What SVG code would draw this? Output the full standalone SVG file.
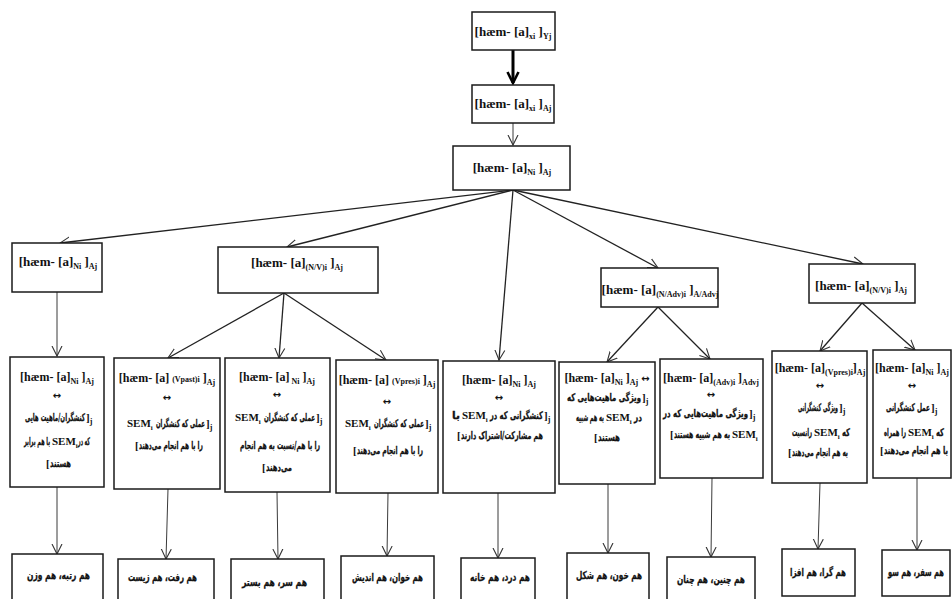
<svg xmlns="http://www.w3.org/2000/svg" width="952" height="599" viewBox="0 0 952 599">
<style>
.box{fill:#fff;stroke:#1a1a1a;stroke-width:1.5}
.f{font-family:'Liberation Serif',serif;font-weight:bold;font-size:13px;fill:#111;text-anchor:middle}
.f2{font-family:'Liberation Serif',serif;font-weight:bold;font-size:12px;fill:#111;text-anchor:middle}
.s{font-size:8px}
.p{font-family:'DejaVu Sans','Noto Sans',sans-serif;font-weight:bold;font-size:10.5px;fill:#111;stroke:#111;stroke-width:0.3;text-anchor:middle}
.pl{font-family:'DejaVu Sans','Noto Sans',sans-serif;font-weight:bold;font-size:11px;fill:#111;stroke:#111;stroke-width:0.3;text-anchor:middle}
.lt{font-family:'Liberation Serif',serif;font-weight:bold;font-size:11px;fill:#111;text-anchor:start}
.ar{font-family:'DejaVu Sans',sans-serif;font-weight:bold;font-size:10px;fill:#111;text-anchor:middle}
.c{stroke:#3a3a3a;stroke-width:1;fill:none;marker-end:url(#ah)}
.cd{stroke:#222;stroke-width:1.3;fill:none;marker-end:url(#ah)}
</style>
<defs>
<marker id="ah" markerUnits="userSpaceOnUse" markerWidth="12" markerHeight="12" viewBox="0 0 12 12" refX="10" refY="6" orient="auto">
<path d="M0,1 L10,6 L0,11" fill="none" stroke="#333" stroke-width="1.1"/>
</marker>
<marker id="ahb" markerUnits="userSpaceOnUse" markerWidth="14" markerHeight="14" viewBox="0 0 14 14" refX="12" refY="7" orient="auto">
<path d="M1,1.5 L12,7 L1,12.5" fill="none" stroke="#000" stroke-width="2.6"/>
</marker>
</defs>

<g id="connectors">
<line x1="513" y1="50" x2="513" y2="83" stroke="#000" stroke-width="3" marker-end="url(#ahb)"/>
<line class="c" x1="513" y1="123" x2="513" y2="145"/>
<line class="cd" x1="513" y1="190" x2="60" y2="243"/>
<line class="cd" x1="513" y1="190" x2="287" y2="247"/>
<line class="cd" x1="513" y1="190" x2="499" y2="360"/>
<line class="cd" x1="513" y1="190" x2="658" y2="268"/>
<line class="cd" x1="513" y1="190" x2="863" y2="264"/>
<line class="c" x1="57" y1="292" x2="57" y2="356"/>
<line class="cd" x1="284" y1="293" x2="168" y2="358"/>
<line class="cd" x1="284" y1="293" x2="279" y2="358"/>
<line class="cd" x1="284" y1="293" x2="386" y2="360"/>
<line class="cd" x1="658" y1="307" x2="607" y2="362"/>
<line class="cd" x1="658" y1="307" x2="710" y2="359"/>
<line class="cd" x1="862" y1="303" x2="820" y2="351"/>
<line class="cd" x1="862" y1="303" x2="915" y2="350"/>
<line class="c" x1="57" y1="487" x2="57" y2="554"/>
<line class="c" x1="168" y1="489" x2="166" y2="559"/>
<line class="c" x1="277" y1="492" x2="278" y2="559"/>
<line class="c" x1="388" y1="493" x2="387" y2="556"/>
<line class="c" x1="498" y1="493" x2="498" y2="558"/>
<line class="c" x1="608" y1="484" x2="608" y2="553"/>
<line class="c" x1="712" y1="478" x2="711" y2="557"/>
<line class="c" x1="820" y1="483" x2="818" y2="549"/>
<line class="c" x1="917" y1="478" x2="917" y2="550"/>
</g>

<g id="n-top1"><rect class="box" x="472" y="12" width="83" height="38"/>
<text class="f" x="513" y="36">[hæm- [a]<tspan class="s" baseline-shift="-3">xi</tspan> ]<tspan class="s" baseline-shift="-3">Yj</tspan></text></g>
<g id="n-top2"><rect class="box" x="472" y="85" width="82" height="38"/>
<text class="f" x="513" y="108">[hæm- [a]<tspan class="s" baseline-shift="-3">xi</tspan> ]<tspan class="s" baseline-shift="-3">Aj</tspan></text></g>
<g id="n-top3"><rect class="box" x="453" y="146" width="117" height="44"/>
<text class="f" x="512" y="172">[hæm- [a]<tspan class="s" baseline-shift="-3">Ni</tspan> ]<tspan class="s" baseline-shift="-3">Aj</tspan></text></g>

<g id="n-a"><rect class="box" x="12" y="243" width="90" height="49"/>
<text class="f" x="58" y="266">[hæm- [a]<tspan class="s" baseline-shift="-3">Ni</tspan> ]<tspan class="s" baseline-shift="-3">Aj</tspan></text></g>
<g id="n-b"><rect class="box" x="218" y="247" width="160" height="46"/>
<text class="f" x="297" y="267">[hæm- [a]<tspan class="s" baseline-shift="-3">(N/V)i</tspan> ]<tspan class="s" baseline-shift="-3">Aj</tspan></text></g>
<g id="n-d"><rect class="box" x="601" y="268" width="117" height="39"/>
<text class="f" x="660" y="294">[hæm- [a]<tspan class="s" baseline-shift="-3">(N/Adv)i</tspan> ]<tspan class="s" baseline-shift="-3">A/Advj</tspan></text></g>
<g id="n-e"><rect class="box" x="809" y="264" width="106" height="39"/>
<text class="f" x="861" y="290">[hæm- [a]<tspan class="s" baseline-shift="-3">(N/V)i</tspan> ]<tspan class="s" baseline-shift="-3">Aj</tspan></text></g>

<g id="n-a1"><rect class="box" x="10" y="357" width="94" height="130"/>
<text class="f2" x="57" y="381">[hæm- [a]<tspan class="s" baseline-shift="-3">Ni</tspan> ]<tspan class="s" baseline-shift="-3">Aj</tspan></text>
<text class="ar" x="57" y="399">↔</text>
<text class="p" x="55" y="421" textLength="60" lengthAdjust="spacingAndGlyphs">کنشگران/ماهیت هایی</text>
<text class="lt" x="86" y="421">]<tspan font-size="8" baseline-shift="-3">j</tspan></text>
<text class="p" x="37" y="445" textLength="26" lengthAdjust="spacingAndGlyphs">با هم برابر</text>
<text class="lt" x="52" y="445">SEM<tspan font-size="7" baseline-shift="-3">i</tspan></text>
<text class="p" x="84" y="445" textLength="12" lengthAdjust="spacingAndGlyphs">که در</text>
<text class="lt" x="46" y="467">[</text>
<text class="p" x="60.5" y="467" textLength="21" lengthAdjust="spacingAndGlyphs">هستند</text></g>

<g id="n-a2"><rect class="box" x="114" y="358" width="106" height="131"/>
<text class="f2" x="167" y="382">[hæm-  [a] <tspan font-size="8">(Vpast)i</tspan> ]<tspan class="s" baseline-shift="-3">Aj</tspan></text>
<text class="ar" x="167" y="401">↔</text>
<text class="lt" x="127" y="427">SEM<tspan font-size="7" baseline-shift="-3">i</tspan></text>
<text class="p" x="180.5" y="427" textLength="49" lengthAdjust="spacingAndGlyphs">عملی که کنشگران</text>
<text class="lt" x="206" y="427">]<tspan font-size="8" baseline-shift="-3">j</tspan></text>
<text class="lt" x="135" y="449">[</text>
<text class="p" x="171" y="449" textLength="64" lengthAdjust="spacingAndGlyphs">را با هم انجام می‌دهند</text></g>

<g id="n-b1"><rect class="box" x="225" y="358" width="105" height="134"/>
<text class="f2" x="277" y="381">[hæm- [a]<tspan class="s" baseline-shift="-3"> Ni</tspan> ]<tspan class="s" baseline-shift="-3">Aj</tspan></text>
<text class="ar" x="277" y="398">↔</text>
<text class="lt" x="235" y="421">SEM<tspan font-size="7" baseline-shift="-3">i</tspan></text>
<text class="p" x="289.5" y="421" textLength="51" lengthAdjust="spacingAndGlyphs">عملی که کنشگران</text>
<text class="lt" x="316" y="421">]<tspan font-size="8" baseline-shift="-3">j</tspan></text>
<text class="p" x="280" y="449" textLength="80" lengthAdjust="spacingAndGlyphs">را با هم/نسبت به هم انجام</text>
<text class="lt" x="262" y="471">[</text>
<text class="p" x="279" y="471" textLength="26" lengthAdjust="spacingAndGlyphs">می‌دهند</text></g>

<g id="n-b2"><rect class="box" x="336" y="360" width="102" height="133"/>
<text class="f2" x="387" y="384">[hæm-  [a] <tspan font-size="8">(Vpres)i</tspan> ]<tspan class="s" baseline-shift="-3">Aj</tspan></text>
<text class="ar" x="387" y="405">↔</text>
<text class="lt" x="345" y="427">SEM<tspan font-size="7" baseline-shift="-3">i</tspan></text>
<text class="p" x="399" y="427" textLength="50" lengthAdjust="spacingAndGlyphs">عملی که کنشگران</text>
<text class="lt" x="425" y="427">]<tspan font-size="8" baseline-shift="-3">j</tspan></text>
<text class="lt" x="353" y="454">[</text>
<text class="p" x="390" y="454" textLength="66" lengthAdjust="spacingAndGlyphs">را با هم انجام می‌دهند</text></g>

<g id="n-c"><rect class="box" x="443" y="361" width="112" height="132"/>
<text class="f2" x="499" y="384">[hæm-  [a]<tspan class="s" baseline-shift="-3">Ni</tspan> ]<tspan class="s" baseline-shift="-3">Aj</tspan></text>
<text class="ar" x="499" y="401">↔</text>
<text class="p" x="456" y="419" textLength="8" lengthAdjust="spacingAndGlyphs">با</text>
<text class="lt" x="462" y="419">SEM<tspan font-size="7" baseline-shift="-3">i</tspan></text>
<text class="p" x="516.5" y="419" textLength="53" lengthAdjust="spacingAndGlyphs">کنشگرانی که در</text>
<text class="lt" x="544" y="419">]<tspan font-size="8" baseline-shift="-3">j</tspan></text>
<text class="lt" x="457" y="439">[</text>
<text class="p" x="502" y="439" textLength="82" lengthAdjust="spacingAndGlyphs">هم مشارکت/اشتراک دارند</text></g>

<g id="n-d1"><rect class="box" x="559" y="362" width="96" height="122"/>
<text class="f2" x="607" y="382">[hæm-  [a]<tspan class="s" baseline-shift="-3">Ni</tspan> ]<tspan class="s" baseline-shift="-3">Aj</tspan> <tspan font-family="DejaVu Sans" font-size="10">↔</tspan></text>
<text class="p" x="604" y="401" textLength="74" lengthAdjust="spacingAndGlyphs">ویژگی ماهیت‌هایی  که</text>
<text class="lt" x="642" y="401">]<tspan font-size="8" baseline-shift="-3">j</tspan></text>
<text class="p" x="590" y="421" textLength="28" lengthAdjust="spacingAndGlyphs">به هم شبیه</text>
<text class="lt" x="606" y="421">SEM<tspan font-size="7" baseline-shift="-3">i</tspan></text>
<text class="p" x="638" y="421" textLength="8" lengthAdjust="spacingAndGlyphs">در</text>
<text class="lt" x="594" y="441">[</text>
<text class="p" x="609" y="441" textLength="22" lengthAdjust="spacingAndGlyphs">هستند</text></g>

<g id="n-d2"><rect class="box" x="660" y="359" width="103" height="119"/>
<text class="f2" x="711" y="382">[hæm-  [a]<tspan class="s" baseline-shift="-3">(Adv)i</tspan> ]<tspan class="s" baseline-shift="-3">Advj</tspan></text>
<text class="ar" x="711" y="398">↔</text>
<text class="p" x="705.5" y="417" textLength="85" lengthAdjust="spacingAndGlyphs">ویژگی ماهیت‌هایی که در</text>
<text class="lt" x="749" y="417">]<tspan font-size="8" baseline-shift="-3">j</tspan></text>
<text class="lt" x="670" y="438">[</text>
<text class="p" x="702" y="438" textLength="56" lengthAdjust="spacingAndGlyphs">به هم شبیه هستند</text>
<text class="lt" x="732" y="438">SEM<tspan font-size="7" baseline-shift="-3">i</tspan></text></g>

<g id="n-e1"><rect class="box" x="772" y="351" width="95" height="132"/>
<text class="f2" x="820" y="372">[hæm- [a]<tspan class="s" baseline-shift="-3">(Vpres)i</tspan>]<tspan class="s" baseline-shift="-3">Aj</tspan></text>
<text class="ar" x="820" y="389">↔</text>
<text class="p" x="818" y="411" textLength="40" lengthAdjust="spacingAndGlyphs">ویژگی کنشگرانی</text>
<text class="lt" x="839" y="411">]<tspan font-size="8" baseline-shift="-3">j</tspan></text>
<text class="p" x="802" y="436" textLength="20" lengthAdjust="spacingAndGlyphs">رانسبت</text>
<text class="lt" x="814" y="436">SEM<tspan font-size="7" baseline-shift="-3">i</tspan></text>
<text class="p" x="846" y="436" textLength="8" lengthAdjust="spacingAndGlyphs">که</text>
<text class="lt" x="788" y="456">[</text>
<text class="p" x="820" y="456" textLength="56" lengthAdjust="spacingAndGlyphs">به هم انجام می‌دهند</text></g>

<g id="n-e2"><rect class="box" x="873" y="350" width="78" height="128"/>
<text class="f2" x="912" y="372">[hæm- [a]<tspan class="s" baseline-shift="-3">Ni</tspan> ]<tspan class="s" baseline-shift="-3">Aj</tspan></text>
<text class="ar" x="912" y="389">↔</text>
<text class="p" x="908" y="411" font-size="9" textLength="44" lengthAdjust="spacingAndGlyphs">عمل کنشگرانی</text>
<text class="lt" x="931" y="411">]<tspan font-size="8" baseline-shift="-3">j</tspan></text>
<text class="p" x="895" y="436" textLength="22" lengthAdjust="spacingAndGlyphs">را همراه</text>
<text class="lt" x="908" y="436">SEM<tspan font-size="7" baseline-shift="-3">i</tspan></text>
<text class="p" x="940" y="436" textLength="8" lengthAdjust="spacingAndGlyphs">که</text>
<text class="lt" x="880" y="454">[</text>
<text class="p" x="916" y="454" font-size="9" textLength="64" lengthAdjust="spacingAndGlyphs">با هم انجام می‌دهند</text></g>

<g id="leaf-a"><rect class="box" x="12" y="554" width="91" height="52"/><text class="pl" x="58.5" y="579" textLength="63" lengthAdjust="spacingAndGlyphs">هم رتبه، هم وزن</text></g>
<g id="leaf-a2"><rect class="box" x="118" y="559" width="96" height="47"/><text class="pl" x="162.5" y="581" textLength="69" lengthAdjust="spacingAndGlyphs">هم رفت، هم زیست</text></g>
<g id="leaf-b1"><rect class="box" x="231" y="559" width="93" height="47"/><text class="pl" x="274.5" y="586" textLength="65" lengthAdjust="spacingAndGlyphs">هم سر، هم بستر</text></g>
<g id="leaf-b2"><rect class="box" x="341" y="556" width="93" height="50"/><text class="pl" x="387.5" y="581" textLength="71" lengthAdjust="spacingAndGlyphs">هم خوان، هم اندیش</text></g>
<g id="leaf-c"><rect class="box" x="461" y="558" width="74" height="48"/><text class="pl" x="500" y="581" textLength="60" lengthAdjust="spacingAndGlyphs">هم درد، هم خانه</text></g>
<g id="leaf-d1"><rect class="box" x="567" y="553" width="82" height="53"/><text class="pl" x="609" y="579" textLength="66" lengthAdjust="spacingAndGlyphs">هم خون، هم شکل</text></g>
<g id="leaf-d2"><rect class="box" x="667" y="557" width="88" height="49"/><text class="pl" x="711" y="583" textLength="68" lengthAdjust="spacingAndGlyphs">هم چنین، هم چنان</text></g>
<g id="leaf-e1"><rect class="box" x="782" y="549" width="73" height="47"/><text class="pl" x="818" y="576" textLength="56" lengthAdjust="spacingAndGlyphs">هم گرا، هم افزا</text></g>
<g id="leaf-e2"><rect class="box" x="882" y="550" width="68" height="46"/><text class="pl" x="916" y="576" font-size="9.5" textLength="56" lengthAdjust="spacingAndGlyphs">هم سفر، هم سو</text></g>
</svg>
